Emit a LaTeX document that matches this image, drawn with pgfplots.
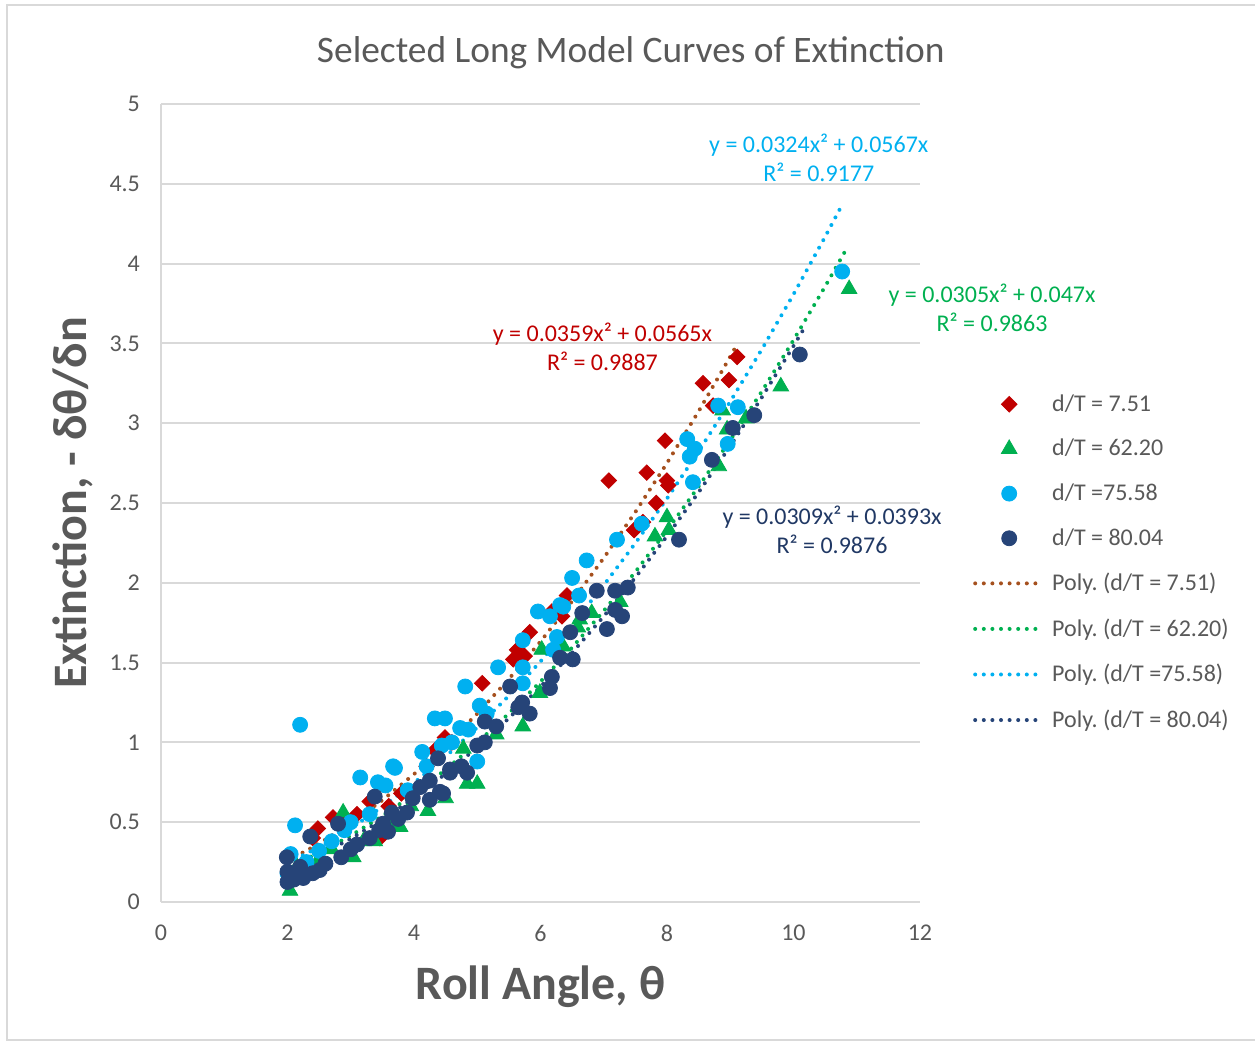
\documentclass[border=0pt]{standalone}
\usepackage{fontspec}
\setmainfont{Carlito}
\usepackage{pgfplots}
\pgfplotsset{compat=1.18}
\frenchspacing
\definecolor{cred}{HTML}{C00000}
\definecolor{cgreen}{HTML}{00B050}
\definecolor{ccyan}{HTML}{00B0F0}
\definecolor{cnavy}{HTML}{264478}
\definecolor{cnavytext}{HTML}{203864}
\definecolor{cbrown}{HTML}{A5501E}
\definecolor{ctext}{HTML}{595959}
\definecolor{cgrid}{HTML}{D9D9D9}
\pgfplotsset{
  trend/.style={line width=2pt, dash pattern=on 0pt off 4.3pt, line cap=round, mark=none},
  wideleg/.style={legend image code/.code={\draw[mark repeat=2,mark phase=2,##1] plot coordinates {(0pt,0pt) (17pt,0pt) (34pt,0pt)};}},
}
\begin{document}
\frenchspacing
\begin{tikzpicture}
\begin{axis}[
  name=ax,
  scale only axis,
  width=379.5pt, height=399pt,
  xmin=0, xmax=12, ymin=0, ymax=5,
  xtick={0,2,...,12},
  ytick={0,0.5,...,5},
  clip=false,
  axis lines*=left,
  axis line style={draw=cgrid, line width=1pt, -},
  ymajorgrids,
  major grid style={draw=cgrid, line width=1pt},
  tick style={draw=none},
  /pgf/number format/assume math mode=true,
  tick label style={font=\fontsize{12}{14}\selectfont, text=ctext},
  yticklabel style={xshift=-7pt},
  xticklabel style={yshift=-8pt},
  legend style={draw=none, fill=none, at={(rel axis cs:1.0696,0.6415)}, anchor=north west,
    font=\fontsize{12}{14}\selectfont\frenchspacing, text=ctext, row sep=8.5pt, inner sep=0pt,
    nodes={inner xsep=3.5pt}},
  legend cell align=left,
  wideleg,
]
\addplot[only marks, mark=square*, mark options={rotate=45}, mark size=2.75pt, color=cred] coordinates {
(2.40,0.40) (2.48,0.46) (2.72,0.53) (2.90,0.52) (3.10,0.55) (3.30,0.63) (3.46,0.40)
(3.60,0.60) (3.80,0.68) (3.97,0.66) (4.20,0.85) (4.33,0.95) (4.49,1.03) (4.60,1.00)
(5.08,1.37) (5.57,1.52) (5.63,1.58) (5.75,1.54) (5.83,1.69) (6.18,1.82) (6.34,1.79)
(6.42,1.92) (7.08,2.64) (7.48,2.33) (7.62,2.38) (7.68,2.69) (7.83,2.50) (7.97,2.89)
(8.00,2.64) (8.02,2.61) (8.57,3.25) (8.73,3.11) (8.98,3.27) (9.11,3.415)
};
\addlegendentry{d/T = 7.51}
\addplot[only marks, mark=triangle*, mark size=4.5pt, color=cgreen] coordinates {
(2.04,0.07) (2.15,0.22) (2.30,0.20) (2.50,0.27) (2.70,0.33) (2.88,0.56) (3.04,0.28)
(3.20,0.38) (3.38,0.38) (3.60,0.48) (3.73,0.50) (3.78,0.47) (3.95,0.60) (4.22,0.57)
(4.50,0.65) (4.78,0.96) (4.84,0.74) (5.00,0.74) (5.30,1.05) (5.72,1.10) (5.99,1.31)
(6.02,1.58) (6.36,1.60) (6.59,1.72) (6.62,1.77) (6.81,1.81) (7.26,1.88) (7.81,2.29)
(8.00,2.41) (8.03,2.33) (8.82,2.73) (8.88,3.08) (8.95,2.96) (9.25,3.03) (9.80,3.23)
(10.88,3.84)
};
\addlegendentry{d/T = 62.20}
\addplot[only marks, mark=*, mark size=3.75pt, color=ccyan] coordinates {
(2.00,0.18) (2.05,0.30) (2.12,0.48) (2.20,1.11) (2.30,0.25) (2.50,0.32) (2.70,0.38)
(2.90,0.45) (3.00,0.50) (3.15,0.78) (3.30,0.55) (3.43,0.75) (3.55,0.73) (3.67,0.85)
(3.70,0.84) (3.90,0.70) (4.13,0.94) (4.20,0.85) (4.33,1.15) (4.44,0.98) (4.49,1.15)
(4.60,1.00) (4.73,1.09) (4.81,1.35) (4.86,1.08) (5.00,0.88) (5.04,1.23) (5.15,1.18)
(5.33,1.47) (5.72,1.37) (5.72,1.47) (5.72,1.64) (5.96,1.82) (6.15,1.79) (6.20,1.58)
(6.26,1.66) (6.31,1.86) (6.36,1.85) (6.50,2.03) (6.61,1.92) (6.73,2.14) (7.21,2.27)
(7.60,2.37) (8.32,2.90) (8.36,2.79) (8.41,2.63) (8.44,2.84) (8.81,3.11) (8.96,2.87)
(9.12,3.10) (10.77,3.95)
};
\addlegendentry{d/T =75.58}
\addplot[only marks, mark=*, mark size=3.75pt, color=cnavy] coordinates {
(1.99,0.28) (2.00,0.19) (2.00,0.125) (2.10,0.14) (2.20,0.22) (2.25,0.15) (2.36,0.41)
(2.40,0.18) (2.51,0.20) (2.60,0.24) (2.80,0.49) (2.85,0.28) (3.00,0.33) (3.10,0.36)
(3.30,0.40) (3.38,0.66) (3.45,0.45) (3.51,0.49) (3.59,0.44) (3.65,0.56) (3.75,0.52)
(3.89,0.56) (3.98,0.65) (4.10,0.72) (4.25,0.64) (4.25,0.76) (4.38,0.90) (4.41,0.69)
(4.46,0.68) (4.57,0.81) (4.57,0.83) (4.75,0.85) (4.84,0.81) (5.00,0.98) (5.12,1.00)
(5.12,1.13) (5.30,1.10) (5.52,1.35) (5.65,1.22) (5.71,1.25) (5.83,1.18) (6.15,1.34)
(6.18,1.41) (6.31,1.53) (6.47,1.69) (6.51,1.52) (6.66,1.81) (6.89,1.95) (7.05,1.71)
(7.18,1.95) (7.18,1.83) (7.29,1.79) (7.38,1.97) (8.19,2.27) (8.71,2.77) (9.04,2.97)
(9.38,3.05) (10.10,3.43)
};
\addlegendentry{d/T = 80.04}
\addplot[trend, color=cbrown] coordinates {
(2,0.2566) (2.5,0.3656) (3,0.4926) (3.5,0.6375) (4,0.8004) (4.5,0.9812) (5,1.18)
(5.5,1.3967) (6,1.6314) (6.5,1.884) (7,2.1546) (7.5,2.4431) (8,2.7496) (8.5,3.074)
(9,3.4164) (9.1,3.487)
};
\addlegendentry{Poly. (d/T = 7.51)}
\addplot[trend, color=cgreen] coordinates {
(2,0.216) (2.5,0.3081) (3,0.4155) (3.5,0.5381) (4,0.676) (4.5,0.8291) (5,0.9975)
(5.5,1.1811) (6,1.38) (6.5,1.5941) (7,1.8235) (7.5,2.0681) (8,2.328) (8.5,2.6031)
(9,2.8935) (9.5,3.1991) (10,3.52) (10.5,3.8561) (10.85,4.1004)
};
\addlegendentry{Poly. (d/T = 62.20)}
\addplot[trend, color=ccyan] coordinates {
(2,0.243) (2.5,0.3443) (3,0.4617) (3.5,0.5954) (4,0.7452) (4.5,0.9113) (5,1.0935)
(5.5,1.292) (6,1.5066) (6.5,1.7375) (7,1.9845) (7.5,2.2478) (8,2.5272) (8.5,2.8229)
(9,3.1347) (9.5,3.4628) (10,3.807) (10.5,4.1675) (10.75,4.3537)
};
\addlegendentry{Poly. (d/T =75.58)}
\addplot[trend, color=cnavy] coordinates {
(2,0.2022) (2.5,0.2914) (3,0.396) (3.5,0.5161) (4,0.6516) (4.5,0.8026) (5,0.969)
(5.5,1.1509) (6,1.3482) (6.5,1.561) (7,1.7892) (7.5,2.0329) (8,2.292) (8.5,2.5666)
(9,2.8566) (9.5,3.1621) (10,3.483) (10.15,3.5823)
};
\addlegendentry{Poly. (d/T = 80.04)}
% trendline labels
\node[align=center, text=ccyan, font=\fontsize{12}{14.5}\selectfont] at (axis cs:10.40,4.66) {y = 0.0324x² + 0.0567x\\R² = 0.9177};
\node[align=center, text=cgreen, font=\fontsize{12}{14.5}\selectfont] at (axis cs:13.14,3.72) {y = 0.0305x² + 0.047x\\R² = 0.9863};
\node[align=center, text=cred, font=\fontsize{12}{14.5}\selectfont] at (axis cs:6.98,3.48) {y = 0.0359x² + 0.0565x\\R² = 0.9887};
\node[align=center, text=cnavytext, font=\fontsize{12}{14.5}\selectfont] at (axis cs:10.61,2.334) {y = 0.0309x² + 0.0393x\\R² = 0.9876};
% title and axis labels
\node[text=ctext, font=\fontsize{18.7}{22}\selectfont] at (rel axis cs:0.619,1.064) {Selected Long Model Curves of Extinction};
\node[text=ctext, font=\fontsize{24}{28}\selectfont\bfseries] at (rel axis cs:0.5,-0.1065) {Roll Angle, θ};
\node[text=ctext, rotate=90, font=\fontsize{24}{28}\selectfont\bfseries] at (rel axis cs:-0.1159,0.5) {Extinction, - δθ/δn};
% chart border and bounding box corners
\draw[cgrid, line width=1pt] (rel axis cs:1.4414,1.1241) -- (rel axis cs:-0.2029,1.1241) -- (rel axis cs:-0.2029,-0.1729) -- (rel axis cs:1.4414,-0.1729);
\coordinate (bbsw) at (rel axis cs:-0.2121,-0.1779);
\coordinate (bbne) at (rel axis cs:1.4414,1.1303);
\end{axis}
\pgfresetboundingbox
\path[use as bounding box] (bbsw) rectangle (bbne);
\end{tikzpicture}
\end{document}
